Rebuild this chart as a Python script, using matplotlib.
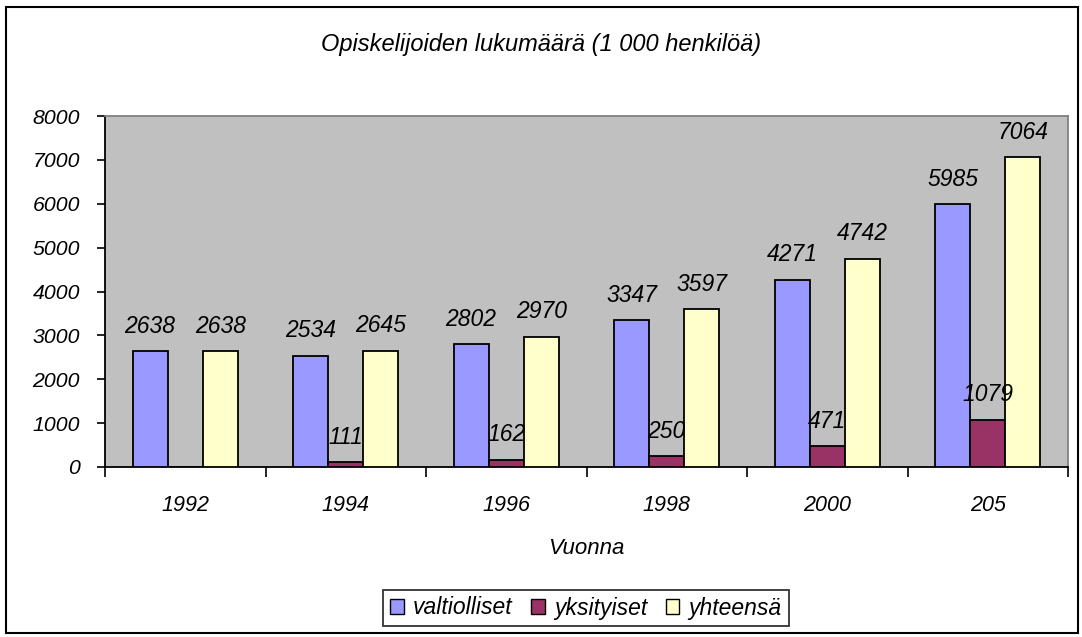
import numpy as np
import matplotlib.pyplot as plt
from matplotlib.patches import Rectangle

# Opiskelijoiden lukumäärä (1 000 henkilöä)
years = ["1992", "1994", "1996", "1998", "2000", "205"]
valtiolliset = [2638, 2534, 2802, 3347, 4271, 5985]
yksityiset = [0, 111, 162, 250, 471, 1079]
yhteensa = [2638, 2645, 2970, 3597, 4742, 7064]

series_names = ["valtiolliset", "yksityiset", "yhteensä"]
colors = ["#9999FF", "#993366", "#FFFFCC"]

plt.rcParams["font.family"] = ["Liberation Sans", "DejaVu Sans"]
plt.rcParams["font.style"] = "italic"

fig = plt.figure(figsize=(10.82, 6.37), dpi=100)
ax = fig.add_axes([105 / 1082, 1 - 467 / 637, (1068 - 105) / 1082, (467 - 116) / 637])
ax.set_facecolor("#C0C0C0")

x = np.arange(len(years))
w = 0.219
all_series = [valtiolliset, yksityiset, yhteensa]
for i, (vals, name, col) in enumerate(zip(all_series, series_names, colors)):
    pos = x + (i - 1) * w
    ax.bar(pos, vals, width=w, color=col, edgecolor="black", linewidth=1.3,
           label=name, zorder=3)
    for xp, v in zip(pos, vals):
        if v == 0:
            continue
        ax.annotate(str(v), (xp, v), xytext=(0, 18), textcoords="offset points",
                    ha="center", va="center", fontsize=16.5, style="italic",
                    zorder=4)

ax.set_xlim(-0.5, len(years) - 0.5)
ax.set_ylim(0, 8000)
ax.set_yticks(range(0, 8001, 1000))
ax.tick_params(axis="y", labelsize=15.3, length=6, width=1.2, pad=12)

ax.set_xticks(x)
ax.set_xticklabels(years, fontsize=15.5)
ax.tick_params(axis="x", length=0, pad=20)
ax.set_xticks(np.arange(-0.5, len(years)), minor=True)
ax.tick_params(axis="x", which="minor", length=7, width=1.2, direction="out")

ax.set_xlabel("Vuonna", fontsize=16, labelpad=16)

for s in ["left", "bottom"]:
    ax.spines[s].set_color("black")
    ax.spines[s].set_linewidth(1.3)
for s in ["top", "right"]:
    ax.spines[s].set_color("#808080")
    ax.spines[s].set_linewidth(1.3)

fig.text(541 / 1082, 1 - 45 / 637, "Opiskelijoiden lukumäärä (1 000 henkilöä)",
         ha="center", va="center", fontsize=17, style="italic")

leg = fig.legend(loc="center", bbox_to_anchor=(586 / 1082, 1 - 608 / 637),
                 ncol=3, fontsize=16.5, frameon=True, fancybox=False,
                 handlelength=0.6, handleheight=0.6, handletextpad=0.4,
                 columnspacing=0.8, borderpad=0.3, edgecolor="black")
leg.get_frame().set_linewidth(1.3)
for h in leg.legend_handles:
    h.set_linewidth(1.0)

# kehys koko kuvan ympärille
fig.patches.append(Rectangle((6 / 1082, 4 / 637), 1072 / 1082, 626 / 637,
                             transform=fig.transFigure, fill=False,
                             edgecolor="black", linewidth=1.5))

fig.savefig("out.png", dpi=100)
